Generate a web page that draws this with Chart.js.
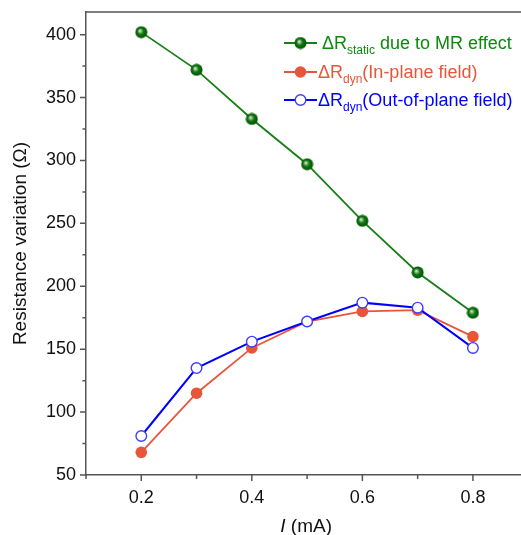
<!DOCTYPE html>
<html><head><meta charset="utf-8">
<script src="https://cdn.jsdelivr.net/npm/chart.js@4.4.0/dist/chart.umd.min.js"></script>
<style>html,body{margin:0;padding:0;background:#fff;overflow:hidden;}#wrap{width:536px;height:535px;position:relative;background:#fff}canvas{display:block;width:536px;height:535px}</style>
</head><body><div id="wrap"><canvas id="c" width="536" height="535"></canvas></div>
<script>
const currents = [0.2, 0.3, 0.4, 0.5, 0.6, 0.7, 0.8];
const staticMR = [402, 372, 333, 297, 252, 211, 179];
const dynInPlane = [68, 115, 151, 172, 180, 181, 160];
const dynOutPlane = [81, 135, 156, 172, 187, 183, 151];
const xLabelValues = [0.2, 0.4, 0.6, 0.8];
const yLabelValues = [50, 100, 150, 200, 250, 300, 350, 400];
const legendMain = ['ΔR', 'ΔR', 'ΔR'];
const legendSub = ['static', 'dyn', 'dyn'];
const legendRest = [' due to MR effect', '(In-plane field)', '(Out-of-plane field)'];

const FONT = "'Liberation Sans', Arial, sans-serif";
const GREEN_LINE = '#177f17', GREEN_TEXT = '#0b8a0b';
const RED = '#e8553a', BLUE = '#0000ff', BLUE_MK = '#3d3dff';
const AXIS = '#555555';

function toXY(ys) { return currents.map((x, i) => ({x: x, y: ys[i]})); }

// sphere marker image
const sphere = document.createElement('canvas');
sphere.width = 13; sphere.height = 13;
(function () {
  const g = sphere.getContext('2d');
  const grd = g.createRadialGradient(5, 5, 0.3, 6.5, 6.5, 6.5);
  grd.addColorStop(0, '#e8e8e8');
  grd.addColorStop(0.22, '#7fa97f');
  grd.addColorStop(0.45, '#0a7d0a');
  grd.addColorStop(1, '#004a00');
  g.fillStyle = grd;
  g.beginPath(); g.arc(6.5, 6.5, 6, 0, Math.PI * 2); g.fill();
})();

function drawMarker(ctx, k, x, y) {
  if (k === 0) { ctx.drawImage(sphere, x - 6.5, y - 6.5); }
  else if (k === 1) { ctx.fillStyle = RED; ctx.beginPath(); ctx.arc(x, y, 5.8, 0, Math.PI * 2); ctx.fill(); }
  else { ctx.fillStyle = '#fff'; ctx.strokeStyle = BLUE_MK; ctx.lineWidth = 1.4; ctx.beginPath(); ctx.arc(x, y, 5.3, 0, Math.PI * 2); ctx.fill(); ctx.stroke(); }
}

const deco = {
  id: 'deco',
  afterDraw(chart) {
    const ctx = chart.ctx, a = chart.chartArea;
    const xs = chart.scales.x, ys = chart.scales.y;
    ctx.save();
    ctx.strokeStyle = AXIS; ctx.lineWidth = 1.5;
    ctx.beginPath();
    ctx.moveTo(a.left - 0.75, a.top); ctx.lineTo(chart.width, a.top);
    ys.ticks.forEach(t => {
      const v = t.value;
      if (Math.abs(v / 25 - Math.round(v / 25)) > 1e-6) return;
      const major = yLabelValues.indexOf(Math.round(v)) >= 0;
      const p = ys.getPixelForValue(v);
      ctx.moveTo(a.left, p); ctx.lineTo(a.left - (major ? 6 : 3.5), p);
    });
    xs.ticks.forEach(t => {
      const v = Math.round(t.value * 10) / 10;
      const major = xLabelValues.indexOf(v) >= 0;
      const p = xs.getPixelForValue(v);
      ctx.moveTo(p, a.bottom); ctx.lineTo(p, a.bottom + (major ? 6 : 4));
    });
    ctx.stroke();

    // x title with italic I
    ctx.fillStyle = '#111';
    ctx.textBaseline = 'alphabetic';
    ctx.font = 'italic 19px ' + FONT;
    const w1 = ctx.measureText('I').width;
    ctx.font = '19px ' + FONT;
    const w2 = ctx.measureText(' (mA)').width;
    const cx = (a.left + a.right) / 2 - 1;
    const sx = cx - (w1 + w2) / 2;
    ctx.font = 'italic 19px ' + FONT;
    ctx.fillText('I', sx, 532);
    ctx.font = '19px ' + FONT;
    ctx.fillText(' (mA)', sx + w1, 532);

    // legend
    const cols = [GREEN_LINE, RED, BLUE];
    const tcols = [GREEN_TEXT, RED, BLUE];
    const rowsY = [43, 72, 100];
    const textX = [322, 318, 318];
    for (let k = 0; k < 3; k++) {
      const y = rowsY[k];
      ctx.strokeStyle = cols[k]; ctx.lineWidth = k === 2 ? 2 : 1.8;
      ctx.beginPath(); ctx.moveTo(284, y); ctx.lineTo(317, y); ctx.stroke();
      drawMarker(ctx, k, 300.5, y);
      ctx.fillStyle = tcols[k];
      let x = textX[k];
      const base = y + 6;
      ctx.font = '18px ' + FONT;
      ctx.fillText(legendMain[k], x, base);
      x += ctx.measureText(legendMain[k]).width;
      ctx.font = '12px ' + FONT;
      ctx.fillText(legendSub[k], x, base + 5);
      x += ctx.measureText(legendSub[k]).width;
      ctx.font = '18px ' + FONT;
      ctx.fillText(legendRest[k], x, base);
    }
    ctx.restore();
  }
};

new Chart(document.getElementById('c'), {
  type: 'line',
  data: {
    datasets: [
      { label: 'ΔR dyn (Out-of-plane field)', data: toXY(dynOutPlane), borderColor: BLUE, borderWidth: 2,
        pointStyle: 'circle', pointRadius: 5.3, pointBorderWidth: 1.4, pointBackgroundColor: '#fff', pointBorderColor: BLUE_MK, order: 0 },
      { label: 'ΔR dyn (In-plane field)', data: toXY(dynInPlane), borderColor: RED, borderWidth: 1.8,
        pointStyle: 'circle', pointRadius: 5.8, pointBorderWidth: 0, pointBackgroundColor: RED, pointBorderColor: RED, order: 1 },
      { label: 'ΔR static due to MR effect', data: toXY(staticMR), borderColor: GREEN_LINE, borderWidth: 1.8,
        pointStyle: sphere, pointRadius: 6, order: 2 }
    ]
  },
  options: {
    responsive: false, animation: false, events: [],
    devicePixelRatio: 1,
    layout: { padding: { left: 5, right: 1, top: 12, bottom: 0 } },
    plugins: { legend: { display: false }, tooltip: { enabled: false } },
    scales: {
      x: {
        type: 'linear', min: 0.1, max: 0.9,
        afterFit: s => { s.height = 60; s.paddingLeft = 0; s.paddingRight = 0; },
        grid: { display: false, drawTicks: false },
        border: { display: true, color: AXIS, width: 1.5 },
        ticks: {
          stepSize: 0.1, padding: 12, color: '#111', font: { family: FONT, size: 18 }, maxRotation: 0, autoSkip: false,
          callback: v => { const r = Math.round(v * 10) / 10; return xLabelValues.indexOf(r) >= 0 ? r.toFixed(1) : ''; }
        }
      },
      y: {
        type: 'linear', min: 50, max: 418,
        afterFit: s => { s.width = 81; s.paddingTop = 0; s.paddingBottom = 0; },
        grid: { display: false, drawTicks: false },
        border: { display: true, color: AXIS, width: 1.5 },
        title: { display: true, text: 'Resistance variation (Ω)', color: '#111', font: { family: FONT, size: 19 }, padding: { top: 4, bottom: 4 } },
        ticks: {
          stepSize: 25, padding: 10, color: '#111', font: { family: FONT, size: 18 }, autoSkip: false,
          callback: v => yLabelValues.indexOf(Math.round(v)) >= 0 && Math.abs(v - Math.round(v)) < 1e-6 ? String(Math.round(v)) : ''
        }
      }
    }
  },
  plugins: [deco]
});
</script></body></html>
